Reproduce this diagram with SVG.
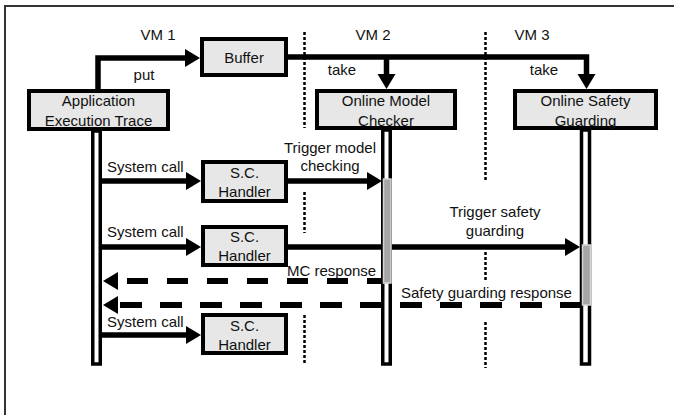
<svg xmlns="http://www.w3.org/2000/svg" width="674" height="415" viewBox="0 0 674 415">
<defs>
<marker id="ah" markerUnits="userSpaceOnUse" markerWidth="16" markerHeight="20" refX="0" refY="9" orient="auto" overflow="visible"><path d="M0,0 L15,9 L0,18 z" fill="#000"/></marker>
<style>
text{font-family:"Liberation Sans",Arial,sans-serif;font-size:15px;fill:#111}
.c{text-anchor:middle}
.box{fill:#e7e7e7;stroke:#000;stroke-width:4}
.life{fill:#fff;stroke:#000;stroke-width:3.5}
.act{fill:#a6a6a6;stroke:#d4d4d4;stroke-width:1.5}
.sol{fill:none;stroke:#000;stroke-width:5.5;marker-end:url(#ah)}
.dsh{fill:none;stroke:#000;stroke-width:6;marker-end:url(#ah)}
.dot{fill:none;stroke:#000;stroke-width:2.5;stroke-dasharray:3 2}
</style>
</defs>
<rect width="674" height="415" fill="#fff"/>
<path d="M5,415 V6 H674" fill="none" stroke="#333" stroke-width="2"/>
<g id="separators">
<path class="dot" d="M304.5,32 V128 M304.5,192 V233 M304.5,315 V363"/>
<path class="dot" d="M485.5,32 V182 M485.5,252 V282 M485.5,322 V368"/>
</g>
<g id="vm-labels">
<text class="c" x="158" y="40">VM 1</text>
<text class="c" x="373" y="40">VM 2</text>
<text class="c" x="532" y="40">VM 3</text>
</g>
<g id="connectors">
<path class="sol" d="M98,89 V58 H185"/>
<path class="sol" d="M288,57 H586.5 V74" style="stroke-linejoin:miter"/>
<path class="sol" d="M386.5,57 V74"/>
<path class="sol" d="M102,181 H186"/>
<path class="sol" d="M288,181 H367"/>
<path class="sol" d="M102,247 H186"/>
<path class="sol" d="M288,247 H565"/>
<path class="sol" d="M102,335 H186"/>
<path class="dsh" d="M388,281 H118" stroke-dasharray="21 19"/>
<path class="dsh" d="M582,305 H118" stroke-dasharray="22 18"/>
<text class="c" x="144" y="80">put</text>
<text class="c" x="342" y="75">take</text>
<text class="c" x="544" y="75">take</text>
<text x="107" y="172">System call</text>
<text x="107" y="237">System call</text>
<text x="107" y="327">System call</text>
<text class="c" x="330" y="153">Trigger model</text>
<text class="c" x="330" y="171">checking</text>
<text class="c" x="495" y="217">Trigger safety</text>
<text class="c" x="495" y="236">guarding</text>
<text x="287" y="276">MC response</text>
<text x="401" y="298">Safety guarding response</text>
</g>
<g id="app">
<rect class="life" x="92.75" y="131" width="7.5" height="233"/>
<rect class="box" x="29" y="91" width="139" height="38"/>
<text class="c" x="98.5" y="106">Application</text>
<text class="c" x="98.5" y="126">Execution Trace</text>
</g>
<g id="buffer">
<rect class="box" x="202" y="39" width="84" height="36"/>
<text class="c" x="244" y="63">Buffer</text>
</g>
<g id="omc">
<rect class="life" x="382.75" y="130" width="7.5" height="234"/>
<rect class="act" x="383.5" y="179" width="7.5" height="104"/>
<rect class="box" x="317" y="91" width="138" height="37"/>
<text class="c" x="386" y="106">Online Model</text>
<text class="c" x="386" y="126">Checker</text>
</g>
<g id="osg">
<rect class="life" x="581.5" y="130" width="8" height="234"/>
<rect class="act" x="582.5" y="245" width="8" height="60"/>
<rect class="box" x="515" y="91" width="141" height="37"/>
<text class="c" x="585.5" y="106">Online Safety</text>
<text class="c" x="585.5" y="126">Guarding</text>
</g>
<g id="sc1">
<rect class="box" x="203" y="162" width="83" height="39"/>
<text class="c" x="244.5" y="178">S.C.</text>
<text class="c" x="244.5" y="197">Handler</text>
</g>
<g id="sc2">
<rect class="box" x="203" y="227" width="83" height="38"/>
<text class="c" x="244.5" y="242">S.C.</text>
<text class="c" x="244.5" y="261">Handler</text>
</g>
<g id="sc3">
<rect class="box" x="203" y="315" width="83" height="38"/>
<text class="c" x="244.5" y="331">S.C.</text>
<text class="c" x="244.5" y="350">Handler</text>
</g>
</svg>
